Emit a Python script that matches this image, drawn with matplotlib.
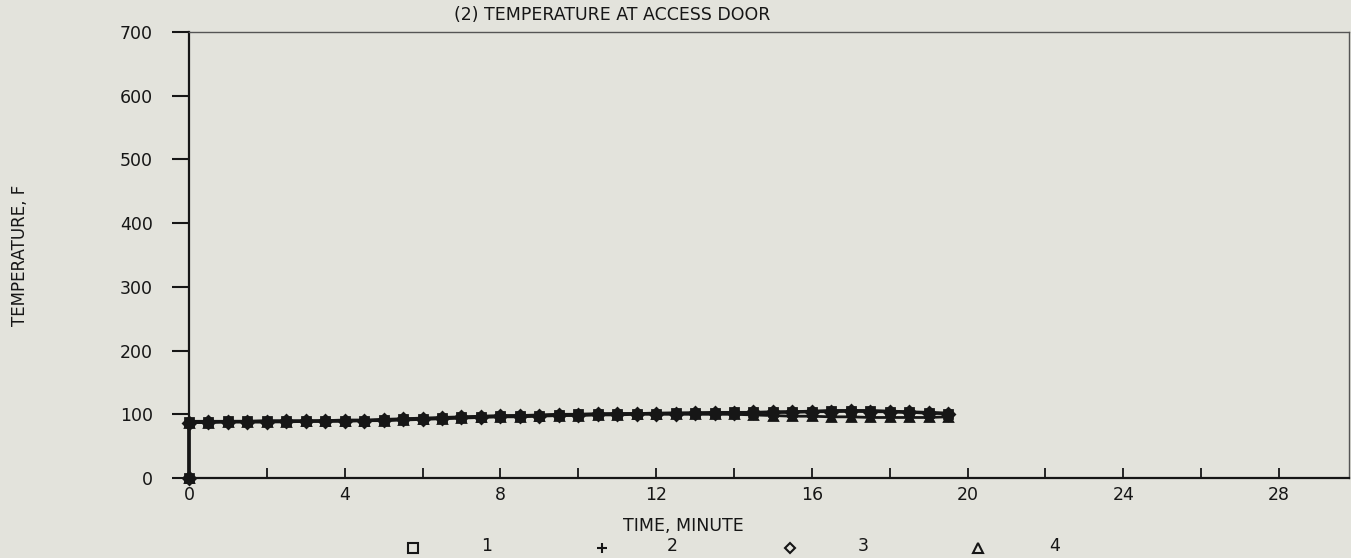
import matplotlib.pyplot as plt
from matplotlib.lines import Line2D

# time in minutes, one reading every half minute (first reading at t=0 is zero)
time = [0] + [i * 0.5 for i in range(40)]

s1 = [0, 88, 88, 89, 89, 89, 89, 89, 90, 90, 90, 91, 92, 93, 94, 95, 96, 97, 98, 98, 99,
      100, 100, 101, 101, 101, 102, 102, 102, 103, 103, 103, 104, 104, 105, 105, 105, 104, 103, 102, 101]
s2 = [0, 89, 89, 89, 89, 90, 90, 90, 90, 91, 91, 92, 93, 94, 95, 96, 97, 98, 98, 99, 100,
      100, 101, 101, 101, 102, 102, 102, 103, 103, 103, 104, 104, 105, 106, 106, 106, 105, 104, 103, 102]
s3 = [0, 87, 88, 88, 88, 88, 89, 89, 89, 90, 90, 91, 92, 93, 94, 95, 96, 97, 97, 98, 99,
      99, 100, 100, 101, 101, 101, 102, 102, 102, 103, 103, 103, 104, 104, 105, 104, 104, 103, 102, 101]
s4 = [0, 87, 87, 88, 88, 88, 88, 89, 89, 89, 90, 90, 91, 92, 93, 94, 95, 96, 96, 97, 98,
      98, 99, 99, 100, 100, 100, 100, 100, 100, 99, 98, 97, 97, 96, 96, 95, 95, 95, 95, 96]

series = [s1, s2, s3, s4]
labels = ['1', '2', '3', '4']
markers = ['s', '+', 'D', '^']

xticks_major = [0, 4, 8, 12, 16, 20, 24, 28]
yticks = [0, 100, 200, 300, 400, 500, 600, 700]

bg = '#e3e3dc'
ink = '#161616'

fig = plt.figure(figsize=(13.51, 5.58), dpi=100, facecolor=bg)
W, H = 1351, 558
ax = fig.add_axes([189 / W, 1 - 478 / H, (1349 - 189) / W, (478 - 32) / H])
ax.set_facecolor(bg)

for vals, m in zip(series, markers):
    ax.plot(time, vals, color=ink, lw=2.0, marker=m, ms=6, mew=2.0,
            mfc=ink if m in ('s', 'D', '^') else 'none', mec=ink, clip_on=False)

ax.set_xlim(0, 29.8)
ax.set_ylim(0, 700)

for s in ['top', 'right']:
    ax.spines[s].set_linewidth(1.0)
    ax.spines[s].set_color('#555555')
for s in ['left', 'bottom']:
    ax.spines[s].set_linewidth(1.6)
    ax.spines[s].set_color(ink)

ax.set_yticks(yticks)
ax.set_yticklabels([str(v) for v in yticks])
ax.tick_params(axis='y', direction='out', length=12, width=1.5, color=ink,
               labelsize=12.5, pad=14, labelcolor=ink)
ax.set_xticks(xticks_major)
ax.set_xticks([2, 6, 10, 14, 18, 22, 26], minor=True)
ax.tick_params(axis='x', which='both', direction='in', length=7, width=1.3, color=ink,
               labelsize=12.5, pad=6, labelcolor=ink)

fig.text(612 / W, 1 - 15 / H, '(2) TEMPERATURE AT ACCESS DOOR', ha='center', va='center',
         fontsize=12.5, color=ink)
fig.text(20 / W, 1 - 255 / H, 'TEMPERATURE, F', rotation=90, ha='center', va='center',
         fontsize=12, color=ink, family=['Liberation Sans Narrow', 'DejaVu Sans'])
fig.text(683 / W, 1 - 526 / H, 'TIME, MINUTE', ha='center', va='center',
         fontsize=12.5, color=ink)

# legend row under the x label
leg_marker_x = [413, 602, 790, 978]
leg_label_x = [487, 672, 863, 1055]
for mx, lx, m, lab in zip(leg_marker_x, leg_label_x, markers, labels):
    fig.add_artist(Line2D([mx / W], [1 - 548 / H], marker=m, ms=7 if m != 'D' else 5,
                          mew=1.5, mfc='none', mec=ink, ls='none'))
    fig.text(lx / W, 1 - 546 / H, lab, ha='center', va='center', fontsize=12.5, color=ink)

fig.savefig('out.png', dpi=100, facecolor=bg)
